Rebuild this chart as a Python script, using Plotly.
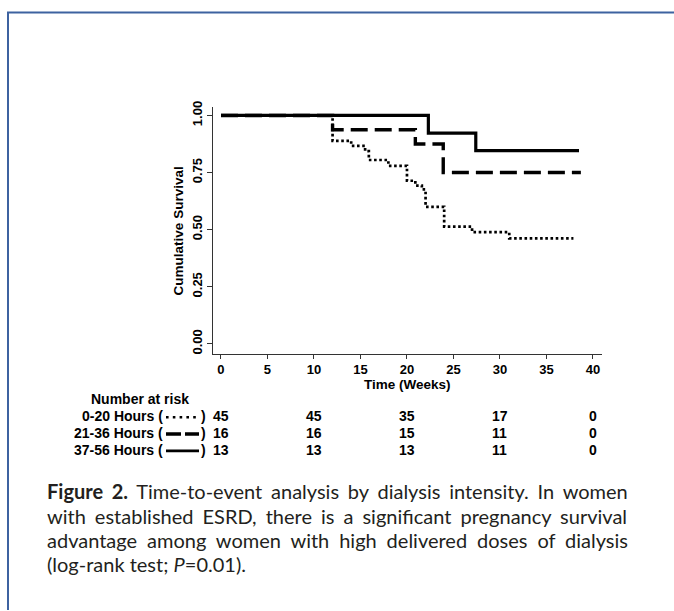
import plotly.graph_objects as go

# Kaplan-Meier step estimates by delivered dialysis hours per week
t_low = [0, 12, 14, 15.5, 15.9, 18, 20, 20.9, 21.6, 22, 24, 27, 31, 37.9]
s_low = [1.0, 0.889, 0.867, 0.844, 0.805, 0.779, 0.714, 0.693, 0.676, 0.600, 0.513, 0.489, 0.462, 0.462]

t_mid = [0, 12, 20.9, 23.9, 38.7]
s_mid = [1.0, 0.9375, 0.875, 0.75, 0.75]

t_high = [0, 22.3, 27.4, 38.5]
s_high = [1.0, 0.923, 0.846, 0.846]

x_ticks = [0, 5, 10, 15, 20, 25, 30, 35, 40]
y_ticks = [0.0, 0.25, 0.5, 0.75, 1.0]
y_tick_text = ["0.00", "0.25", "0.50", "0.75", "1.00"]

risk_times = [0, 10, 20, 30, 40]
risk_labels = ["0-20 Hours (", "21-36 Hours (", "37-56 Hours ("]
risk_low = [45, 45, 35, 17, 0]
risk_mid = [16, 16, 15, 11, 0]
risk_high = [13, 13, 13, 11, 0]

caption_lines = [
    "<b>Figure 2.</b> Time-to-event analysis by dialysis intensity. In women",
    "with established ESRD, there is a significant pregnancy survival",
    "advantage among women with high delivered doses of dialysis",
    "(log-rank test; <i>P</i>=0.01).",
]
# extra word spacing (px) that spreads each caption line to the full column width
caption_word_spacing = [3.7, 3.9, 4.8, 0]

W, H = 674, 611
X0, X1 = 212.7, 601.7   # plot area, px
Y0, Y1 = 101.7, 351.7


def px(x):
    return x / W


def py(y):
    return 1 - y / H


fig = go.Figure()
fig.add_trace(go.Scatter(x=t_low, y=s_low, mode="lines", line_shape="hv",
                         line=dict(color="black", width=2.7, dash="2.6px,2.6px"),
                         hoverinfo="skip"))
fig.add_trace(go.Scatter(x=t_mid, y=s_mid, mode="lines", line_shape="hv",
                         line=dict(color="black", width=3.4, dash="17px,7px"),
                         hoverinfo="skip"))
fig.add_trace(go.Scatter(x=t_high, y=s_high, mode="lines", line_shape="hv",
                         line=dict(color="black", width=3.2),
                         hoverinfo="skip"))

axis_font = dict(family="Liberation Sans", size=13, color="black")
title_font = dict(family="Liberation Sans", size=13.5, color="black")
table_font = dict(family="Liberation Sans", size=14, color="black")

fig.update_layout(
    width=W, height=H,
    margin=dict(l=0, r=0, t=0, b=0),
    paper_bgcolor="white", plot_bgcolor="white",
    showlegend=False,
    xaxis=dict(domain=[px(X0), px(X1)], range=[-0.89, 40.94],
               tickvals=x_ticks, ticktext=[f"<b>{v}</b>" for v in x_ticks],
               ticks="outside", ticklen=4, tickwidth=1, tickcolor="#333",
               showline=True, linecolor="#333", linewidth=1,
               showgrid=False, zeroline=False, tickfont=axis_font),
    yaxis=dict(domain=[py(Y1), py(Y0)], range=[-0.043, 1.039],
               tickvals=y_ticks, ticktext=[f"<b>{v}</b>" for v in y_tick_text],
               tickangle=-90,
               ticks="outside", ticklen=5, tickwidth=1, tickcolor="#333",
               showline=True, linecolor="#333", linewidth=1,
               showgrid=False, zeroline=False, tickfont=axis_font),
)

annotations = []
# axis titles
annotations.append(dict(text="<b>Time (Weeks)</b>", x=px((X0 + X1) / 2), y=py(383),
                        xref="paper", yref="paper", showarrow=False,
                        xanchor="center", yanchor="middle", font=title_font))
annotations.append(dict(text="<b>Cumulative Survival</b>", x=px(178), y=py(228),
                        xref="paper", yref="paper", showarrow=False, textangle=-90,
                        xanchor="center", yanchor="middle", font=title_font))

# number-at-risk table
annotations.append(dict(text="<b>Number at risk</b>", x=px(89), y=py(398),
                        xref="paper", yref="paper", showarrow=False,
                        xanchor="left", yanchor="middle", font=table_font))
row_y = [415, 432, 449]
for label, counts, ry in zip(risk_labels, [risk_low, risk_mid, risk_high], row_y):
    annotations.append(dict(text=f"<b>{label}</b>", x=px(165), y=py(ry),
                            xref="paper", yref="paper", showarrow=False,
                            xanchor="right", yanchor="middle", font=table_font))
    annotations.append(dict(text="<b>)</b>", x=px(198.5), y=py(ry),
                            xref="paper", yref="paper", showarrow=False,
                            xanchor="left", yanchor="middle", font=table_font))
    for t, n in zip(risk_times, counts):
        annotations.append(dict(text=f"<b>{n}</b>", x=t, y=py(ry),
                                xref="x", yref="paper", showarrow=False,
                                xanchor="center", yanchor="middle", font=table_font))

# caption
cap_font = dict(family="Lato", size=20, color="#231f20")
for i, (line, ws) in enumerate(zip(caption_lines, caption_word_spacing)):
    text = f'<span style="word-spacing:{ws}px">{line}</span>' if ws else line
    annotations.append(dict(text=text, x=px(45), y=py(491 + 24.5 * i),
                            xref="paper", yref="paper", showarrow=False,
                            xanchor="left", yanchor="middle", font=cap_font))

fig.update_layout(annotations=annotations)

# legend glyphs inside the at-risk row labels, and the page frame
glyph_styles = [dict(width=2.6, dash="2.6px,4.2px"), dict(width=3.6, dash="15px,4px"), dict(width=2.6)]
shapes = []
for ry, st in zip(row_y, glyph_styles):
    shapes.append(dict(type="line", xref="paper", yref="paper",
                       x0=px(166), x1=px(199), y0=py(ry + 1), y1=py(ry + 1),
                       line=dict(color="black", **st)))
frame = "#3d62a0"
shapes.append(dict(type="line", xref="paper", yref="paper",
                   x0=px(7), x1=1, y0=py(6.5), y1=py(6.5), line=dict(color=frame, width=2)))
shapes.append(dict(type="line", xref="paper", yref="paper",
                   x0=px(8), x1=px(8), y0=py(6), y1=0, line=dict(color=frame, width=2)))
fig.update_layout(shapes=shapes)

fig.write_html("out.html")
